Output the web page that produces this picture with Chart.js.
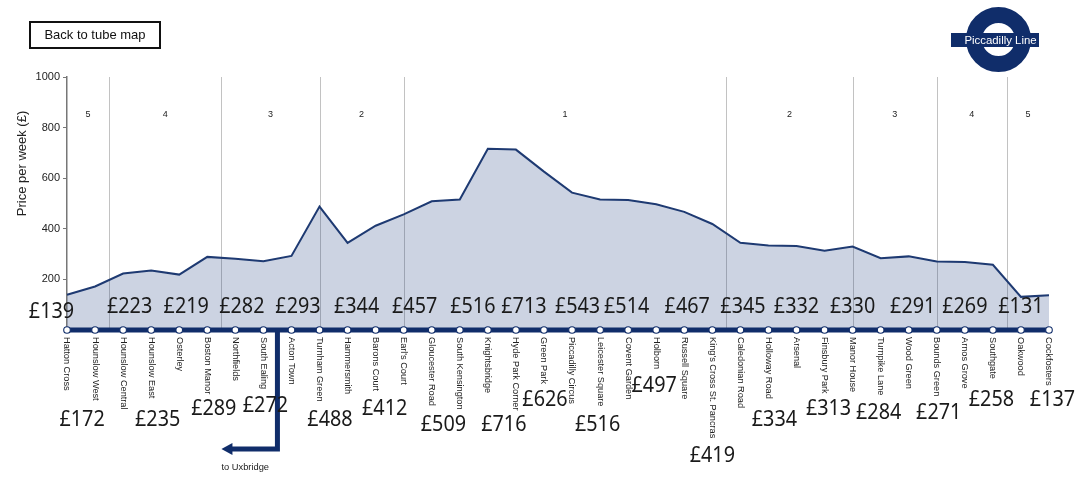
<!DOCTYPE html>
<html>
<head>
<meta charset="utf-8">
<script src="https://cdn.jsdelivr.net/npm/chart.js@4.4.1/dist/chart.umd.min.js"></script>
<style>
  html, body { margin: 0; padding: 0; background: #fff; }
  #wrap { position: relative; width: 1080px; height: 481px; overflow: hidden; }
  #btn { position: absolute; left: 29px; top: 21px; width: 128px; height: 24px; border: 2px solid #111;
         font: 13px "Liberation Sans", Arial, sans-serif; color: #111; text-align: center; line-height: 24px; }
</style>
</head>
<body>
<div id="wrap">
  <canvas id="c" width="1080" height="481"></canvas>
  <div id="btn">Back to tube map</div>
</div>
<script>
// ---------------- data ----------------
const stations = ["Hatton Cross","Hounslow West","Hounslow Central","Hounslow East","Osterley","Boston Manor",
  "Northfields","South Ealing","Acton Town","Turnham Green","Hammersmith","Barons Court","Earl's Court",
  "Gloucester Road","South Kensington","Knightsbridge","Hyde Park Corner","Green Park","Piccadilly Circus",
  "Leicester Square","Covent Garden","Holborn","Russell Square","King's Cross St. Pancras","Caledonian Road",
  "Holloway Road","Arsenal","Finsbury Park","Manor House","Turnpike Lane","Wood Green","Bounds Green",
  "Arnos Grove","Southgate","Oakwood","Cockfosters"];
const prices = [139,172,223,235,219,289,282,272,293,488,344,412,457,509,516,716,713,626,543,516,514,497,467,419,
  345,334,332,313,330,284,291,271,269,258,131,137];
const zoneBounds = [1.5, 5.5, 9, 12, 23.5, 28, 31, 33.5];
const zoneNames = ["5","4","3","2","1","2","3","4","5"];
const yTicks = [200, 400, 600, 800, 1000];
const yTitle = "Price per week (\u00a3)";
const branchText = "to Uxbridge";
const logoText = "Piccadilly Line";

// ---------------- layout (label nudges, pixels) ----------------
const labelDx = [-15.5,-13,6.5,6.5,7,6.5,6.5,2,6.5,10.5,9,9,11,11.7,13,16,8,1,5.5,-2.5,-1.5,-2,3,0,2.6,6,0,4,0,-2,4,2,0,-1.5,0,3.5];
const labelBase = [318,426,313,426,313,415,313,412,313,426,313,415,313,431,313,431,313,406,313,431,313,392,313,462,
  313,426,313,415,313,419,313,419,313,406,313,406];

const navy = '#102d6a';
const sans = '"Liberation Sans", Arial, sans-serif';

const tubePlugin = {
  id: 'tube',
  beforeDatasetsDraw(chart) {
    const { ctx, chartArea: a, scales: { x, y } } = chart;
    ctx.save();
    ctx.strokeStyle = '#c2c2c2';
    ctx.lineWidth = 1;
    zoneBounds.forEach(b => {
      const px = Math.round(x.getPixelForValue(b)) + 0.5;
      ctx.beginPath(); ctx.moveTo(px, a.top); ctx.lineTo(px, a.bottom); ctx.stroke();
    });
    ctx.fillStyle = '#222';
    ctx.font = '9px ' + sans;
    ctx.textAlign = 'center';
    ctx.textBaseline = 'middle';
    const edges = [0, ...zoneBounds, stations.length - 1];
    const zy = y.getPixelForValue(850);
    zoneNames.forEach((z, i) => {
      const cx = (x.getPixelForValue(edges[i]) + x.getPixelForValue(edges[i + 1])) / 2;
      ctx.fillText(z, cx, zy);
    });
    ctx.restore();
  },
  afterDraw(chart) {
    const { ctx, scales: { x, y } } = chart;
    const y0 = y.getPixelForValue(0);
    const n = stations.length;
    ctx.save();
    // branch to Uxbridge
    const bx = x.getPixelForValue(7.5);
    const by = y0 + 119;
    ctx.strokeStyle = navy; ctx.lineWidth = 5; ctx.lineJoin = 'miter'; ctx.lineCap = 'butt';
    ctx.beginPath(); ctx.moveTo(bx, y0); ctx.lineTo(bx, by); ctx.lineTo(bx - 46, by); ctx.stroke();
    ctx.fillStyle = navy;
    ctx.beginPath(); ctx.moveTo(bx - 56, by); ctx.lineTo(bx - 45, by - 6); ctx.lineTo(bx - 45, by + 6); ctx.closePath(); ctx.fill();
    ctx.fillStyle = '#222'; ctx.font = '9.3px ' + sans; ctx.textAlign = 'left'; ctx.textBaseline = 'middle';
    ctx.fillText(branchText, bx - 56, by + 18);
    // main line
    ctx.strokeStyle = navy; ctx.lineWidth = 5;
    ctx.beginPath(); ctx.moveTo(x.getPixelForValue(0), y0); ctx.lineTo(x.getPixelForValue(n - 1), y0); ctx.stroke();
    // stations
    for (let i = 0; i < n; i++) {
      const px = x.getPixelForValue(i);
      ctx.beginPath(); ctx.arc(px, y0, 3.3, 0, Math.PI * 2);
      ctx.fillStyle = '#fff'; ctx.fill();
      ctx.strokeStyle = navy; ctx.lineWidth = 1.1; ctx.stroke();
      // name
      ctx.save();
      ctx.translate(px, y0 + 7);
      ctx.rotate(Math.PI / 2);
      ctx.fillStyle = '#222'; ctx.font = '9.2px ' + sans; ctx.textAlign = 'left'; ctx.textBaseline = 'middle';
      ctx.fillText(stations[i], 0, 0);
      ctx.restore();
    }
    // price labels
    ctx.fillStyle = '#1a1a1a';
    ctx.font = '22px "Noto Sans", "Open Sans", sans-serif';
    ctx.textAlign = 'center'; ctx.textBaseline = 'alphabetic';
    for (let i = 0; i < n; i++) {
      const px = x.getPixelForValue(i) + labelDx[i];
      ctx.save();
      ctx.translate(px, labelBase[i]);
      ctx.scale(0.9, 1);
      ctx.fillText('\u00a3' + prices[i], 0, 0);
      ctx.restore();
    }
    // y title
    ctx.save();
    ctx.translate(22, 163.5);
    ctx.rotate(-Math.PI / 2);
    ctx.fillStyle = '#222'; ctx.font = '13px ' + sans; ctx.textAlign = 'center'; ctx.textBaseline = 'middle';
    ctx.fillText(yTitle, 0, 0);
    ctx.restore();
    // roundel
    ctx.strokeStyle = navy; ctx.lineWidth = 16;
    ctx.beginPath(); ctx.arc(998.5, 39.5, 24.5, 0, Math.PI * 2); ctx.stroke();
    ctx.fillStyle = navy; ctx.fillRect(951, 33, 88, 14);
    ctx.fillStyle = '#fff'; ctx.font = '11.4px ' + sans; ctx.textAlign = 'center'; ctx.textBaseline = 'middle';
    ctx.fillText(logoText, 1000.5, 40.5);
    ctx.restore();
  }
};

new Chart(document.getElementById('c'), {
  type: 'line',
  data: {
    labels: stations,
    datasets: [{
      data: prices,
      borderColor: '#1e3a72',
      borderWidth: 2,
      backgroundColor: 'rgba(40,70,130,0.235)',
      fill: 'origin',
      tension: 0,
      pointRadius: 0,
      pointHoverRadius: 0
    }]
  },
  options: {
    responsive: false,
    animation: false,
    events: [],
    layout: { padding: { top: 77, bottom: 151, right: 31, left: 0 } },
    plugins: { legend: { display: false }, tooltip: { enabled: false } },
    scales: {
      x: { type: 'category', display: false, offset: false },
      y: {
        min: 0, max: 1000,
        afterFit(s) { s.width = 67; },
        afterBuildTicks(s) { s.ticks = yTicks.map(v => ({ value: v })); },
        grid: { drawOnChartArea: false, drawTicks: true, tickLength: 4, color: '#777' },
        border: { display: true, color: '#777', width: 1.5 },
        ticks: { padding: 3, color: '#222', font: { family: sans, size: 11 }, callback: v => String(v) }
      }
    }
  },
  plugins: [tubePlugin]
});
</script>
</body>
</html>
